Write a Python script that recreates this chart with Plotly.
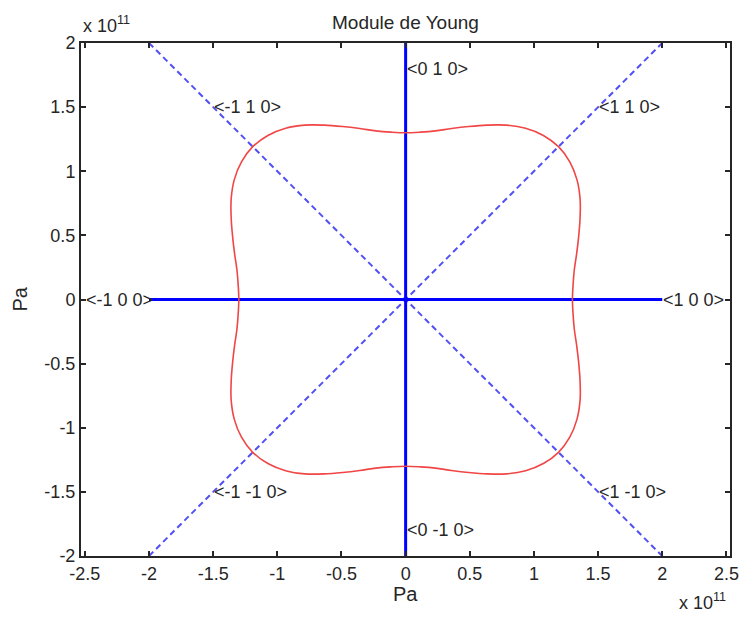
import numpy as np
import plotly.graph_objects as go

# Young's modulus of the crystal in the (001) plane, sampled every 5 degrees (Pa)
angles_deg = list(range(0, 365, 5))
modulus_pa = [
    1.300e11, 1.310e11, 1.335e11, 1.380e11, 1.435e11, 1.500e11, 1.570e11, 1.630e11, 1.670e11,
    1.685e11, 1.670e11, 1.630e11, 1.570e11, 1.500e11, 1.435e11, 1.380e11, 1.335e11, 1.310e11,
    1.300e11, 1.310e11, 1.335e11, 1.380e11, 1.435e11, 1.500e11, 1.570e11, 1.630e11, 1.670e11,
    1.685e11, 1.670e11, 1.630e11, 1.570e11, 1.500e11, 1.435e11, 1.380e11, 1.335e11, 1.310e11,
    1.300e11, 1.310e11, 1.335e11, 1.380e11, 1.435e11, 1.500e11, 1.570e11, 1.630e11, 1.670e11,
    1.685e11, 1.670e11, 1.630e11, 1.570e11, 1.500e11, 1.435e11, 1.380e11, 1.335e11, 1.310e11,
    1.300e11, 1.310e11, 1.335e11, 1.380e11, 1.435e11, 1.500e11, 1.570e11, 1.630e11, 1.670e11,
    1.685e11, 1.670e11, 1.630e11, 1.570e11, 1.500e11, 1.435e11, 1.380e11, 1.335e11, 1.310e11,
    1.300e11,
]

# Crystal directions: label, label anchor (Pa)
dir_labels = ["<0 1 0>", "<0 -1 0>", "<1 0 0>", "<-1 0 0>",
              "<1 1 0>", "<-1 1 0>", "<-1 -1 0>", "<1 -1 0>"]
dir_x = [0.0, 0.0, 2.0e11, -2.5e11, 1.5e11, -1.5e11, -1.5e11, 1.5e11]
dir_y = [1.8e11, -1.8e11, 0.0, 0.0, 1.5e11, 1.5e11, -1.5e11, -1.5e11]

# Direction lines (Pa)
axis_lim = 2.0e11

tick_vals_x = [-2.5e11, -2e11, -1.5e11, -1e11, -0.5e11, 0, 0.5e11, 1e11, 1.5e11, 2e11, 2.5e11]
tick_text_x = ["-2.5", "-2", "-1.5", "-1", "-0.5", "0", "0.5", "1", "1.5", "2", "2.5"]
tick_vals_y = [-2e11, -1.5e11, -1e11, -0.5e11, 0, 0.5e11, 1e11, 1.5e11, 2e11]
tick_text_y = ["-2", "-1.5", "-1", "-0.5", "0", "0.5", "1", "1.5", "2"]

FONT = "Liberation Sans, Arial, sans-serif"
TXT = "#262626"
BLUE = "rgb(0,0,255)"
DASH_BLUE = "rgb(80,80,245)"

theta = np.radians(angles_deg)
r = np.array(modulus_pa)
curve_x = r * np.cos(theta)
curve_y = r * np.sin(theta)

fig = go.Figure()

# diagonal <110> directions, dashed
fig.add_trace(go.Scatter(x=[-axis_lim, axis_lim], y=[axis_lim, -axis_lim], mode="lines",
                         line=dict(color=DASH_BLUE, width=2, dash="6px,4px"),
                         hoverinfo="skip", showlegend=False))
fig.add_trace(go.Scatter(x=[-axis_lim, axis_lim], y=[-axis_lim, axis_lim], mode="lines",
                         line=dict(color=DASH_BLUE, width=2, dash="6px,4px"),
                         hoverinfo="skip", showlegend=False))
# <100> directions, solid
fig.add_trace(go.Scatter(x=[-axis_lim, axis_lim], y=[0, 0], mode="lines",
                         line=dict(color=BLUE, width=3),
                         hoverinfo="skip", showlegend=False))
fig.add_trace(go.Scatter(x=[0, 0], y=[-axis_lim, axis_lim], mode="lines",
                         line=dict(color=BLUE, width=3),
                         hoverinfo="skip", showlegend=False))

# Young's modulus surface section
fig.add_trace(go.Scatter(x=curve_x, y=curve_y, mode="lines",
                         line=dict(color="rgb(240,70,70)", width=1.6, shape="spline"),
                         showlegend=False))

annotations = []
for lab, xx, yy in zip(dir_labels, dir_x, dir_y):
    annotations.append(dict(
        x=xx, y=yy, xref="x", yref="y",
        text=lab.replace("<", "&lt;").replace(">", "&gt;"),
        showarrow=False, xanchor="left", yanchor="middle", borderpad=0,
        font=dict(family=FONT, size=18, color=TXT),
    ))

# title, axis labels and exponent notes
annotations += [
    dict(x=0.5, y=1, xref="paper", yref="paper", yshift=21, text="Module de Young",
         showarrow=False, xanchor="center", yanchor="middle",
         font=dict(family=FONT, size=19, color=TXT)),
    dict(x=0.5, y=0, xref="paper", yref="paper", yshift=-38, text="Pa",
         showarrow=False, xanchor="center", yanchor="middle",
         font=dict(family=FONT, size=20, color=TXT)),
    dict(x=0, y=0.5, xref="paper", yref="paper", xshift=-62, text="Pa", textangle=-90,
         showarrow=False, xanchor="center", yanchor="middle",
         font=dict(family=FONT, size=20, color=TXT)),
    dict(x=0, y=1, xref="paper", yref="paper", xshift=0, yshift=5,
         text="x 10<sup>11</sup>",
         showarrow=False, xanchor="left", yanchor="bottom",
         font=dict(family=FONT, size=18, color=TXT)),
    dict(x=1, y=0, xref="paper", yref="paper", xshift=-2, yshift=-59,
         text="x 10<sup>11</sup>",
         showarrow=False, xanchor="right", yanchor="bottom",
         font=dict(family=FONT, size=18, color=TXT)),
]

axis_common = dict(
    showgrid=False, zeroline=False, showline=True, linecolor="#262626", linewidth=2,
    mirror="allticks", ticks="inside", ticklen=5, tickwidth=1.5, tickcolor="#262626",
    tickfont=dict(family=FONT, size=18, color=TXT), automargin=False,
)

fig.update_layout(
    width=739, height=617,
    margin=dict(l=81, r=9, t=43, b=61, autoexpand=False),
    paper_bgcolor="white", plot_bgcolor="white",
    xaxis=dict(range=[-2.53e11, 2.528e11], tickmode="array",
               tickvals=tick_vals_x, ticktext=tick_text_x, **axis_common),
    yaxis=dict(range=[-2e11, 2e11], tickmode="array",
               tickvals=tick_vals_y, ticktext=tick_text_y, **axis_common),
    annotations=annotations,
    showlegend=False,
)

fig.write_html("out.html")
